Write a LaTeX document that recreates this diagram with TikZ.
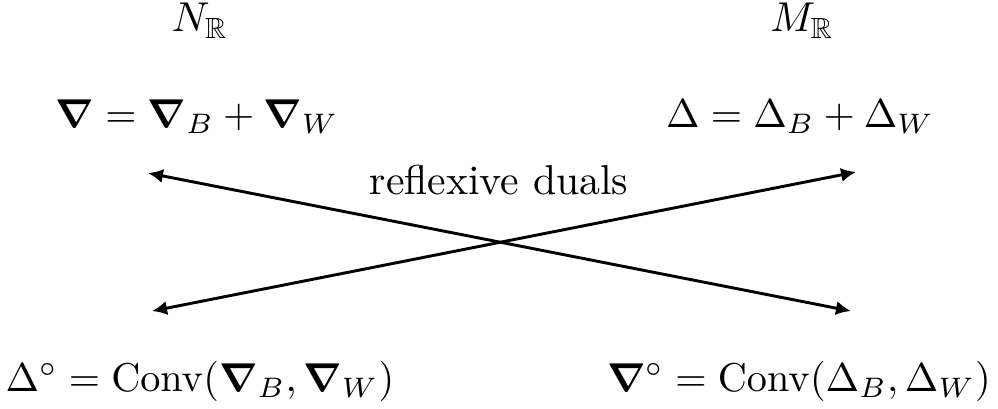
\documentclass[tikz,border=0pt]{standalone}
\usepackage{amsmath,amssymb,bm}
\usetikzlibrary{arrows.meta,positioning}

\begin{document}
\begin{tikzpicture}[
  label/.style={anchor=base, inner sep=0pt, font=\normalsize},
  mathlabel/.style={label, scale=0.965},
  dualarr/.style={{Latex[length=3.6pt,width=3.4pt]}-{Latex[length=3.6pt,width=3.4pt]},
                  line width=0.7pt},
]
\useasboundingbox (0,0) rectangle (8.41,3.438);

%%──────────────────────────────────────────────────────────────────
%% Spaces and polytopes
%%──────────────────────────────────────────────────────────────────
\node[label] (nr) at (1.685, 3.17) {$N_{\mathbb{R}}$};
\node[label] (mr) at (6.76, 3.17) {$M_{\mathbb{R}}$};

\node[mathlabel] (nabla) at (1.66, 2.36) {$\bm{\nabla} = \bm{\nabla}_B + \bm{\nabla}_W$};
\node[mathlabel] (delta) at (6.742, 2.36) {$\Delta = \Delta_B + \Delta_W$};

\node[mathlabel] (deltadual) at (1.685, 0.14) {$\Delta^{\circ} = \mathrm{Conv}(\bm{\nabla}_B, \bm{\nabla}_W)$};
\node[mathlabel] (nabladual) at (6.733, 0.14) {$\bm{\nabla}^{\circ} = \mathrm{Conv}(\Delta_B, \Delta_W)$};

%%──────────────────────────────────────────────────────────────────
%% Crossed duality arrows
%%──────────────────────────────────────────────────────────────────
\node[label] (duals) at (4.205, 1.80) {reflexive duals};

\coordinate (nw) at (1.247, 1.980);
\coordinate (ne) at (7.214, 1.989);
\coordinate (sw) at (1.281, 0.817);
\coordinate (se) at (7.171, 0.817);

\draw[dualarr] (nw) -- (se);
\draw[dualarr] (sw) -- (ne);

\end{tikzpicture}
\end{document}
